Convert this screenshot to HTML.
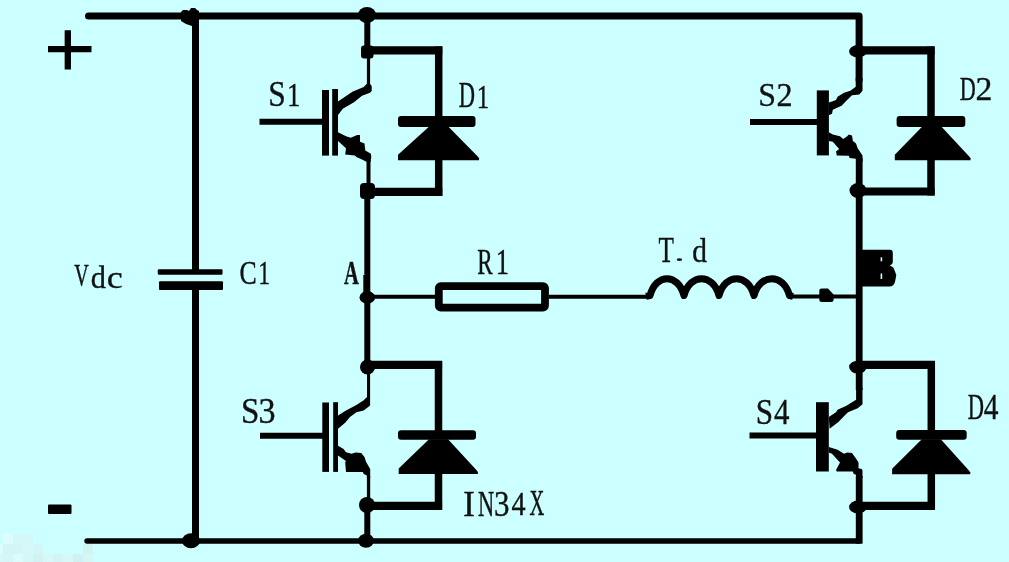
<!DOCTYPE html>
<html><head><meta charset="utf-8"><style>
html,body{margin:0;padding:0;background:#CCFFFF;overflow:hidden}
svg{display:block}
text{font-family:"Liberation Serif",serif;font-size:100px;fill:#111;stroke:#111;stroke-width:0.35px;vector-effect:non-scaling-stroke}
</style></head><body>
<svg width="1009" height="562" viewBox="0 0 1009 562">
<rect width="1009" height="562" fill="#CCFFFF"/>
<rect x="3" y="534" width="10" height="10" fill="#dcfdfd"/><rect x="13" y="534" width="10" height="10" fill="#d4f8f8"/><rect x="23" y="534" width="10" height="10" fill="#d4f8f8"/><rect x="0" y="544" width="3" height="10" fill="#dcfdfd"/><rect x="3" y="544" width="10" height="10" fill="#d2f5f5"/><rect x="13" y="544" width="10" height="10" fill="#d2f5f5"/><rect x="23" y="544" width="10" height="10" fill="#d6f8f8"/><rect x="33" y="544" width="10" height="10" fill="#d2f6f7"/><rect x="83" y="544" width="10" height="10" fill="#d0f3f3"/><rect x="0" y="554" width="3" height="8" fill="#d8f8f8"/><rect x="3" y="554" width="10" height="8" fill="#d5f6f6"/><rect x="13" y="554" width="10" height="8" fill="#ddfbfb"/><rect x="23" y="554" width="10" height="8" fill="#d6f7f7"/><rect x="33" y="554" width="10" height="8" fill="#d0f2f2"/><rect x="43" y="554" width="10" height="8" fill="#d8f8f8"/><rect x="53" y="554" width="10" height="8" fill="#d2f4f4"/><rect x="63" y="554" width="10" height="8" fill="#d8f8f8"/><rect x="73" y="554" width="10" height="8" fill="#d0f1f1"/><rect x="83" y="554" width="10" height="8" fill="#d6f6f6"/>
<g fill="#000">
<path d="M88.5,16 H859.1 V80" fill="none" stroke="#000" stroke-width="7" stroke-linecap="round" stroke-linejoin="round"/>
<path d="M87,541.0 H859.2" fill="none" stroke="#000" stroke-width="5.4" stroke-linecap="round"/>
<path d="M859.2,476 V543.7" fill="none" stroke="#000" stroke-width="6.8"/>
<path d="M195.5,16 V272 M195.5,285 V541" fill="none" stroke="#000" stroke-width="7"/>
<rect x="157.8" y="269.2" width="64.7" height="5.6" rx="1"/>
<rect x="159" y="281.2" width="64" height="8.7" rx="1"/>
<path d="M367.3,16 V58 M367.3,184 V373 M367.3,498 V541" fill="none" stroke="#000" stroke-width="6"/>
<path d="M859.2,158 V390" fill="none" stroke="#000" stroke-width="6.8"/>
<path d="M367.5,50.4 H442.3 M367.5,191.8 H442.3" fill="none" stroke="#000" stroke-width="8.2"/>
<path d="M438.7,46.5 V117.0 M438.7,195.7 V159.0" fill="none" stroke="#000" stroke-width="7.5"/>
<path d="M859.0,50.4 H934.6 M859.0,191.5 H934.6" fill="none" stroke="#000" stroke-width="8.2"/>
<path d="M931.0,46.5 V117.0 M931.0,195.4 V159.0" fill="none" stroke="#000" stroke-width="7.5"/>
<path d="M367.5,364.8 H442.1 M367.5,505.8 H442.1" fill="none" stroke="#000" stroke-width="8.2"/>
<path d="M438.5,360.9 V431.0 M438.5,509.7 V472.0" fill="none" stroke="#000" stroke-width="7.5"/>
<path d="M859.0,364.8 H934.9 M859.0,505.8 H934.9" fill="none" stroke="#000" stroke-width="8.2"/>
<path d="M931.3,360.9 V432.0 M931.3,509.7 V472.0" fill="none" stroke="#000" stroke-width="7.5"/>
<rect x="398.0" y="116.0" width="77.5" height="11.0" rx="3"/><path d="M429.2,126.5 L448.2,126.5 L477.5,156.3 L479.0,158.3 L479.0,160.3 L398.0,160.3 L398.0,154.8 Z"/>
<rect x="896.6" y="116.0" width="68.7" height="11.0" rx="3"/><path d="M922.3,126.5 L941.3,126.5 L969.0,156.3 L970.5,158.3 L970.5,160.3 L894.8,160.3 L894.8,154.8 Z"/>
<rect x="398.0" y="430.3" width="78.0" height="9.4" rx="3"/><path d="M429.0,439.2 L448.0,439.2 L476.4,470.0 L477.9,472.0 L477.9,474.0 L398.7,474.0 L398.7,468.5 Z"/>
<rect x="896.2" y="429.9" width="70.5" height="9.8" rx="3"/><path d="M921.8,439.2 L940.8,439.2 L968.7,470.3 L970.2,472.3 L970.2,474.3 L892.1,474.3 L892.1,468.8 Z"/>
<path d="M259.5,121.8 L323.0,121.8" stroke="#000" stroke-width="6.0" fill="none" stroke-linecap="butt"/>
<rect x="322.0" y="90.0" width="7.0" height="65.6"/><rect x="332.2" y="89.0" width="5.8" height="66.6"/>
<polygon points="338.0,101.4 352.4,91.8 363.7,87.0 366.9,83.8 366.9,56.0 370.1,56.0 370.1,84.0 371.7,86.0 371.7,91.0 370.0,92.8 362.0,95.8 354.0,102.2 342.8,108.7 338.0,115.0"/>
<polygon points="338.0,132.2 346.0,136.2 350.8,137.8 357.2,135.0 360.0,135.0 360.0,141.8 364.5,143.4 365.3,150.6 370.9,153.8 371.3,157.0 370.5,162.0 366.9,162.0 362.0,159.5 356.4,157.0 354.8,155.4 345.2,154.6 346.0,148.2 338.0,141.0"/>
<rect x="366.5" y="160.0" width="4.0" height="26.0"/>
<path d="M750.0,121.9 L818.0,121.9" stroke="#000" stroke-width="6.0" fill="none" stroke-linecap="butt"/>
<rect x="816.8" y="90.4" width="12.1" height="65.0"/>
<polygon points="828.8,102.4 832.0,101.6 836.0,100.0 837.6,96.8 844.0,92.8 850.4,90.8 855.7,86.8 855.7,78.0 862.5,78.0 862.5,90.8 859.3,94.4 852.0,95.2 846.4,100.8 841.6,105.7 832.8,109.7 832.0,113.7 828.8,115.3"/>
<polygon points="828.8,132.2 832.8,134.6 840.0,136.2 843.2,139.0 847.2,136.2 848.8,134.5 852.0,135.5 852.9,141.0 856.0,143.4 857.7,148.2 862.5,155.4 862.5,162.0 856.0,162.0 856.0,158.7 849.6,157.9 848.8,155.8 836.8,155.4 836.0,151.4 839.2,149.0 832.8,141.8 828.8,141.0"/>
<path d="M260.0,435.7 L323.0,435.7" stroke="#000" stroke-width="6.0" fill="none" stroke-linecap="butt"/>
<rect x="322.3" y="402.5" width="6.7" height="69.4"/><rect x="333.2" y="402.2" width="4.8" height="69.7"/>
<polygon points="338.0,415.4 346.0,410.6 356.4,405.0 363.7,400.2 367.0,397.0 367.0,370.0 370.1,370.0 370.1,405.4 363.7,410.6 356.4,412.2 350.0,417.0 345.2,422.7 338.0,428.7"/>
<polygon points="338.0,445.8 343.6,449.0 346.0,452.2 351.6,453.8 355.6,452.6 361.2,453.0 364.5,457.0 366.0,461.8 369.3,467.4 370.2,469.0 370.2,478.0 366.9,478.0 366.9,475.5 363.7,473.9 362.9,471.9 346.0,471.9 345.2,462.6 346.0,461.0 338.0,455.4"/>
<rect x="366.9" y="476.0" width="3.3" height="24.0"/>
<path d="M749.5,435.6 L817.0,435.6" stroke="#000" stroke-width="6.0" fill="none" stroke-linecap="butt"/>
<rect x="816.0" y="402.2" width="12.8" height="69.3"/>
<polygon points="828.8,417.0 836.0,412.2 837.6,409.8 846.4,405.8 852.0,402.2 856.1,399.8 856.1,388.0 862.5,388.0 862.5,404.2 857.7,408.2 848.0,412.2 843.2,417.0 838.4,421.9 829.6,428.7"/>
<polygon points="828.8,447.0 832.8,448.2 837.6,449.8 844.0,453.8 847.2,452.6 852.0,453.0 856.0,458.6 858.5,462.6 858.5,468.2 861.7,469.0 862.5,470.6 862.5,478.0 856.0,478.0 856.0,474.7 853.7,473.9 852.9,471.5 836.8,471.5 836.0,469.9 840.0,462.6 832.0,453.8 828.8,452.6"/>
<polygon points="181,12 183,10 187,10 189,11 191,8 195,8 197,10 199,11 199,20 192,26 186,24 181,21"/>
<rect x="361" y="45.6" width="12.5" height="12.8" rx="3"/>
<rect x="360" y="183" width="15" height="16" rx="4"/>
<ellipse cx="367.0" cy="15.0" rx="9.0" ry="8.0"/>
<ellipse cx="367.3" cy="297.4" rx="7.8" ry="6.3"/>
<ellipse cx="367.5" cy="367.0" rx="7.5" ry="7.5"/>
<ellipse cx="367.0" cy="505.0" rx="8.0" ry="8.0"/>
<ellipse cx="366.0" cy="540.7" rx="8.0" ry="7.0"/>
<ellipse cx="191.0" cy="540.7" rx="9.0" ry="7.5"/>
<ellipse cx="857.9" cy="51.3" rx="8.8" ry="6.2"/>
<ellipse cx="858.0" cy="190.5" rx="8.5" ry="7.5"/>
<ellipse cx="857.9" cy="367.1" rx="8.8" ry="6.4"/>
<ellipse cx="857.9" cy="507.0" rx="8.8" ry="6.5"/>
<rect x="363.3" y="275" width="3" height="21"/>
<path d="M367,296.8 H438 M549,296.8 H650 M790,296.6 H859" stroke="#000" stroke-width="4" fill="none"/>
<rect x="438.8" y="286.1" width="106.2" height="21.5" rx="2" fill="none" stroke="#000" stroke-width="7.8"/>
<path d="M646,296.3 L650,295.5 C656.0,273.0 678.0,273.0 684.0,295.5 C690.0,273.0 713.0,273.0 719.0,295.5 C725.0,273.0 748.0,273.0 754.0,295.5 C760.0,273.0 783.5,273.0 789.5,295.5 L793,296.3" stroke="#000" stroke-width="7" fill="none" stroke-linejoin="round"/>
<path d="M819.3,291 Q819.3,288.6 822,288.6 L828,288.6 L833.6,294.5 L833.6,299.5 Q833.6,302 831,302 L822,302 Q819.3,302 819.3,299.5 Z"/>
<path d="M862,249.8 H890 Q892.8,249.8 892.8,253 V262.5 Q892.5,264.8 889.8,265.3 L893.5,267.8 L896.3,275 L895,282 Q893.5,286.5 889.5,286.5 H862 Z"/>
<rect x="880.6" y="257.3" width="1.6" height="4" fill="#CCFFFF"/>
<rect x="880.6" y="273.5" width="1.6" height="5.5" fill="#CCFFFF"/>
<path d="M48,49.2 H91.5 M67.8,30.2 V69.5" stroke="#000" stroke-width="6.3" fill="none"/>
<rect x="48" y="504.5" width="23.5" height="9.5" rx="1"/>
</g>
<g style="will-change:transform">
<text transform="matrix(0.3140 0 0 0.3507 268.36 105.55)">S</text>
<text transform="matrix(0.2686 0 0 0.3409 286.98 105.80)">1</text>
<text transform="matrix(0.2246 0 0 0.3496 458.63 106.80)">D</text>
<text transform="matrix(0.2486 0 0 0.3424 476.86 107.50)">1</text>
<text transform="matrix(0.3186 0 0 0.3463 758.23 105.55)">S</text>
<text transform="matrix(0.3225 0 0 0.3470 776.55 105.60)">2</text>
<text transform="matrix(0.2215 0 0 0.3405 959.64 100.40)">D</text>
<text transform="matrix(0.3375 0 0 0.3424 975.38 100.40)">2</text>
<text transform="matrix(0.2014 0 0 0.3179 74.20 286.02)">V</text>
<text transform="matrix(0.3033 0 0 0.3234 90.64 287.68)">d</text>
<text transform="matrix(0.3600 0 0 0.3062 106.86 287.69)">c</text>
<text transform="matrix(0.2579 0 0 0.3418 239.57 283.86)">C</text>
<text transform="matrix(0.2371 0 0 0.3379 258.37 284.20)">1</text>
<text transform="matrix(0.2057 0 0 0.3470 343.99 284.20)" font-weight="bold">A</text>
<text transform="matrix(0.2315 0 0 0.3588 477.31 273.50)">R</text>
<text transform="matrix(0.2657 0 0 0.3561 495.81 273.50)">1</text>
<text transform="matrix(0.2522 0 0 0.3511 658.60 261.90)">T</text>
<text transform="matrix(0.4167 0 0 0.2333 674.19 261.25)">.</text>
<text transform="matrix(0.2945 0 0 0.3305 692.17 261.57)">d</text>
<text transform="matrix(0.3302 0 0 0.3537 240.95 422.95)">S</text>
<text transform="matrix(0.3415 0 0 0.3537 258.49 422.95)">3</text>
<text transform="matrix(0.3116 0 0 0.3478 755.87 424.25)">S</text>
<text transform="matrix(0.3097 0 0 0.3485 773.88 424.30)">4</text>
<text transform="matrix(0.2246 0 0 0.3557 967.63 419.30)">D</text>
<text transform="matrix(0.2946 0 0 0.3485 983.71 419.30)">4</text>
<text transform="matrix(0.3585 0 0 0.3573 463.05 515.50)">I</text>
<text transform="matrix(0.2239 0 0 0.3573 478.03 515.50)">N</text>
<text transform="matrix(0.3098 0 0 0.3537 493.95 515.55)">3</text>
<text transform="matrix(0.2817 0 0 0.3424 511.54 515.20)">4</text>
<text transform="matrix(0.2044 0 0 0.3511 529.39 515.20)">X</text>
</g>
</svg>
</body></html>
